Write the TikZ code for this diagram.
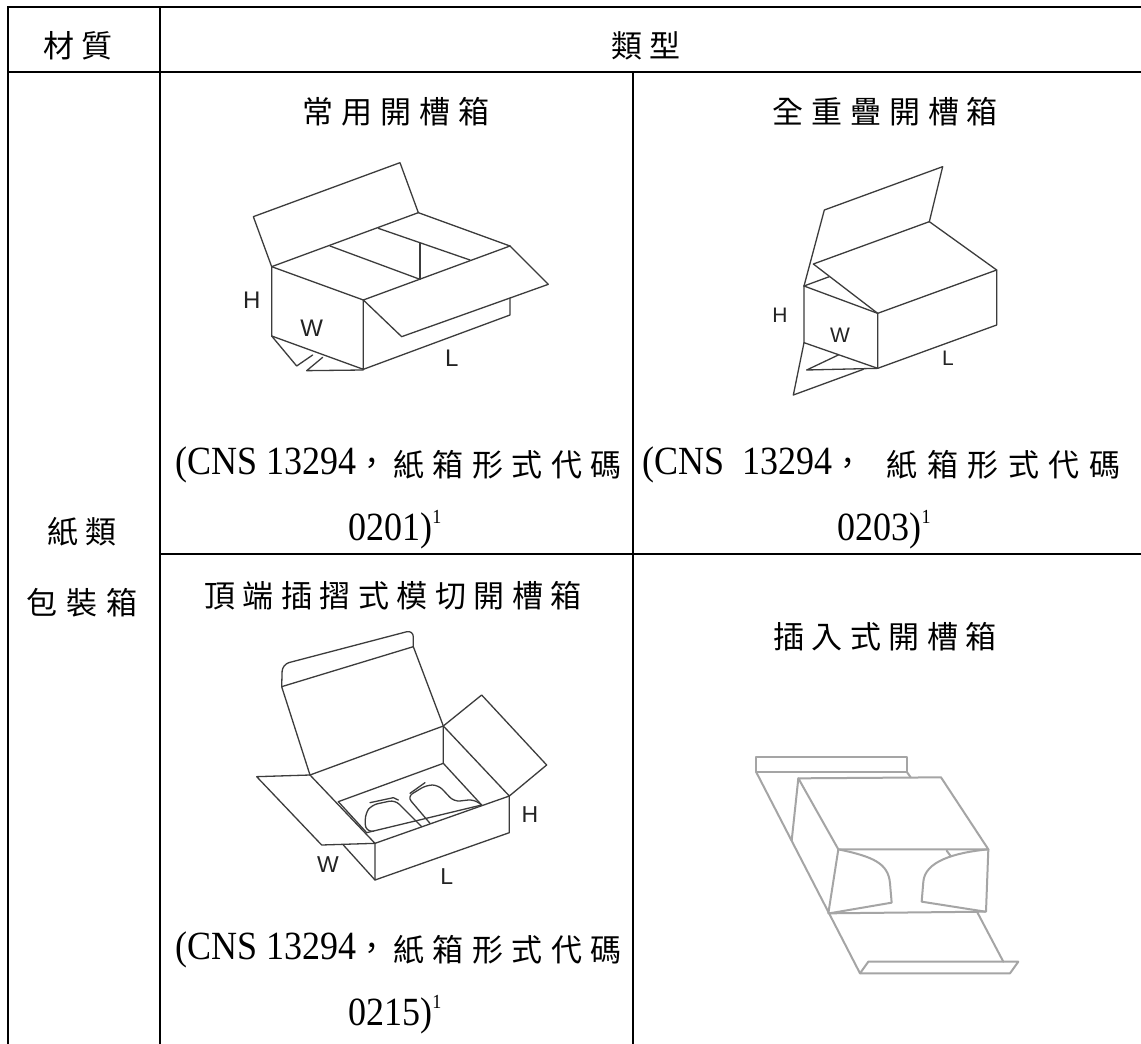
\documentclass[tikz,border=0pt]{standalone}
\usepackage{fontspec}
\newfontfamily\cjk{Noto Sans CJK TC}
\newfontfamily\latf[FakeStretch=0.9]{Liberation Serif}
\newfontfamily\labf{Liberation Sans}
\definecolor{boxline}{RGB}{60,60,60}
\definecolor{lightline}{RGB}{165,165,165}
\definecolor{labgray}{RGB}{35,35,35}
\makeatletter
\def\cjs#1#2{\def\cj@w{#1}\cj@loop#2\relax}
\def\cj@loop#1{\ifx\relax#1\else\makebox[\cj@w]{#1}\expandafter\cj@loop\fi}
\makeatother
\newcommand\cjcomma{{\cjk\fontsize{31}{36}\selectfont ，}}
\begin{document}
\begin{tikzpicture}[x=1pt,y=-1pt,
  tbl/.style={line width=2.6pt, black},
  bx/.style={line width=1.3pt, boxline, line join=round, line cap=round},
  bxl/.style={line width=2pt, lightline, line join=round, line cap=round},
  cjt/.style={font=\cjk\fontsize{31}{36}\selectfont, inner sep=0pt},
  latt/.style={font=\latf\fontsize{40}{44}\selectfont, inner sep=0pt},
  lab/.style={font=\labf\fontsize{24}{28}\selectfont, text=labgray, inner sep=0pt}]
\useasboundingbox (0,0) rectangle (1141,1044);
\fill[white] (0,0) rectangle (1141,1044);

% table rules
\draw[tbl] (8,1050) -- (8,7) -- (1150,7);
\draw[tbl] (8,72) -- (1150,72);
\draw[tbl] (160,7) -- (160,1050);
\draw[tbl] (160,554) -- (1150,554);
\draw[tbl] (633,72) -- (633,1050);

% header
\node[cjt] (h1) at (78,46) {\cjs{37.5pt}{材質}};
\node[cjt] (h2) at (646,46) {\cjs{37.5pt}{類型}};
\node[cjt] (m1) at (82,532) {\cjs{37.5pt}{紙類}};
\node[cjt] (m2) at (82.5,603) {\cjs{40pt}{包裝箱}};

% cell titles
\node[cjt] (t1) at (396,112) {\cjs{39pt}{常用開槽箱}};
\node[cjt] (t2) at (885,112) {\cjs{39pt}{全重疊開槽箱}};
\node[cjt] (t3) at (393,596) {\cjs{38.5pt}{頂端插摺式模切開槽箱}};
\node[cjt] (t4) at (885,637) {\cjs{38.5pt}{插入式開槽箱}};

% captions cell 1
\node[latt, anchor=west] (a1) at (175,465) {(CNS 13294\cjcomma};
\node[cjt, anchor=west] (a4) at (389,465) {\cjs{39.5pt}{紙箱形式代碼}};
\node[latt] (a5) at (395,530) {0201)\raisebox{17pt}{\fontsize{20}{20}\selectfont 1}};
% captions cell 2
\node[latt, anchor=west] (b1) at (642,465) {(CNS\ \ 13294\cjcomma};
\node[cjt, anchor=west] (b4) at (882,465) {\cjs{40.5pt}{紙箱形式代碼}};
\node[latt] (b5) at (884,530) {0203)\raisebox{17pt}{\fontsize{20}{20}\selectfont 1}};
% captions cell 3
\node[latt, anchor=west] (d1) at (175,950) {(CNS 13294\cjcomma};
\node[cjt, anchor=west] (d4) at (389,950) {\cjs{39.5pt}{紙箱形式代碼}};
\node[latt] (d5) at (395,1015) {0215)\raisebox{17pt}{\fontsize{20}{20}\selectfont 1}};

% ---------- box 1 : regular slotted container
\begin{scope}[shift={(240,160)}, x=0.33333pt, y=-0.33333pt]
\draw[bx] (95,320) -- (40,170) -- (480,8) -- (535,158);
\draw[bx] (95,320) -- (535,158) -- (810,258);
\draw[bx] (95,320) -- (370,420) -- (810,258);
\draw[bx] (370,420) -- (485,530) -- (925,373) -- (810,258);
\draw[bx] (270,258) -- (540,358);
\draw[bx] (415,205) -- (690,300);
\draw[bx] (540,250) -- (540,358);
\draw[bx] (95,320) -- (95,528) -- (370,628) -- (370,420);
\draw[bx] (370,628) -- (810,465) -- (810,414);
\draw[bx] (95,528) -- (170,618) -- (218,585);
\draw[bx] (248,592) -- (200,632) -- (370,630);
\end{scope}
\node[lab] (l1h) at (251.7,300) {H};
\node[lab] (l1w) at (311.7,328) {W};
\node[lab] (l1l) at (451.7,358) {L};

% ---------- box 2 : full overlap slotted container
\begin{scope}[shift={(770,150)}, x=0.33333pt, y=-0.33333pt]
\draw[bx] (102,408) -- (163,180) -- (518,50) -- (478,215);
\draw[bx] (130,342) -- (478,215) -- (680,360) -- (323,490) -- cycle;
\draw[bx] (102,408) -- (178,380);
\draw[bx] (102,408) -- (323,490);
\draw[bx] (102,408) -- (102,578) -- (323,655) -- (323,490);
\draw[bx] (323,655) -- (680,525) -- (680,360);
\draw[bx] (102,578) -- (70,735) -- (280,658);
\draw[bx] (205,615) -- (110,660) -- (323,655);
\end{scope}
\node[lab, font=\labf\fontsize{21}{24}\selectfont] (l2h) at (780,315) {H};
\node[lab, font=\labf\fontsize{21}{24}\selectfont] (l2w) at (840,335) {W};
\node[lab, font=\labf\fontsize{21}{24}\selectfont] (l2l) at (948,358) {L};

% ---------- box 3 : die-cut tuck top
\begin{scope}[shift={(250,670)}, x=0.33333pt, y=-0.33333pt]
\draw[bx, rounded corners=7pt] (95,50) -- (97,-17) -- (490,-120) -- (490,-70);
\draw[bx] (95,50) -- (490,-70);
\draw[bx] (180,315) -- (95,50);
\draw[bx] (580,168) -- (490,-70);
\draw[bx] (180,315) -- (580,168);
\draw[bx] (180,315) -- (20,320) -- (215,525) -- (375,520) -- cycle;
\draw[bx] (580,168) -- (695,75) -- (890,285) -- (778,378) -- cycle;
\draw[bx] (375,520) -- (778,378);
\draw[bx] (375,520) -- (375,630) -- (778,488) -- (778,378);
\draw[bx] (280,525) -- (375,630);
% interior
\draw[bx] (265,395) -- (580,280) -- (580,168);
\draw[bx] (580,280) -- (695,405);
\draw[bx] (265,395) -- (350,488);
\draw[bx] (350,488) -- (695,405);
\draw[bx, rounded corners=6pt] (370,484) -- (346,482) -- (346,430) -- (365,405) -- (435,390) -- (515,470);
\draw[bx] (360,398) -- (430,383) -- (445,390);
\draw[bx, rounded corners=6pt] (540,460) -- (472,380) -- (530,345) -- (565,345) -- (612,395) -- (672,388) -- (695,405);
\draw[bx] (480,370) -- (525,338);
\end{scope}
\node[lab, font=\labf\fontsize{23}{26}\selectfont] (l3h) at (530,815) {H};
\node[lab, font=\labf\fontsize{23}{26}\selectfont] (l3w) at (328,865) {W};
\node[lab, font=\labf\fontsize{23}{26}\selectfont] (l3l) at (446.7,876.7) {L};

% ---------- box 4 : tuck-in slotted container
\begin{scope}[shift={(740,690)}, x=0.33333pt, y=-0.33333pt]
\draw[bxl] (48,202) rectangle (500,245);
\draw[bxl] (48,245) -- (360,850);
\draw[bxl] (500,245) -- (512,262);
\draw[bxl] (175,265) -- (603,262) -- (745,478) -- (295,478) -- cycle;
\draw[bxl] (175,265) -- (155,452);
\draw[bxl] (295,478) -- (265,670) -- (738,665) -- (745,478);
\draw[bxl] (295,478) .. controls (400,500) and (445,520) .. (450,580) -- (455,638) -- (268,670);
\draw[bxl] (745,478) .. controls (640,488) and (555,515) .. (550,575) -- (545,635) -- (736,665);
\draw[bxl] (620,482) -- (632,498);
\draw[bxl] (712,667) -- (790,815);
\draw[bxl] (360,850) -- (385,815) -- (835,815) -- (810,850) -- cycle;
\end{scope}
\end{tikzpicture}
\end{document}
